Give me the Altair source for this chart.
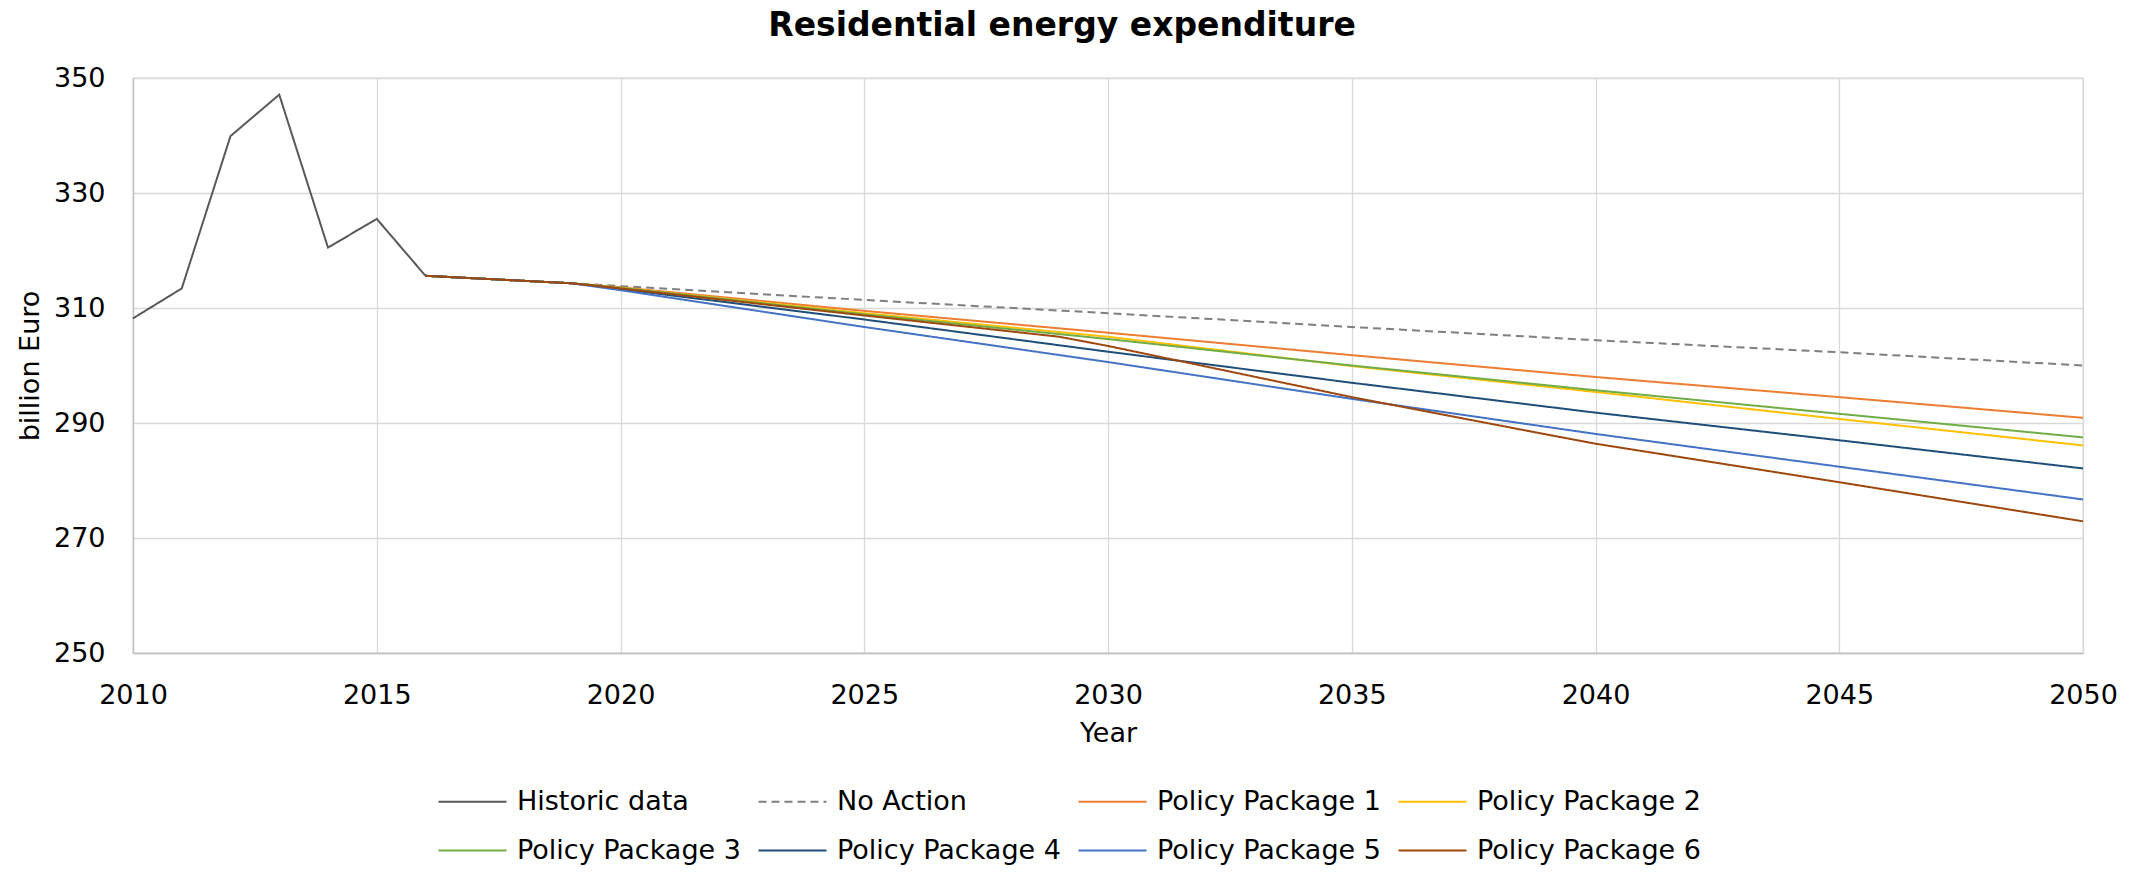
import altair as alt
import pandas as pd

# ---- data ----
hist_years = [2010, 2011, 2012, 2013, 2014, 2015, 2016]
hist_values = [308.2, 313.4, 339.9, 347.1, 320.5, 325.5, 315.6]

scen_years = [2016, 2019, 2020, 2025, 2030, 2035, 2040, 2045, 2050]
no_action = [315.6, 314.3, 313.8, 311.4, 309.1, 306.7, 304.4, 302.3, 300.0]
pp1 = [315.6, 314.3, 313.6, 309.5, 305.7, 301.8, 298.0, 294.5, 290.9]
pp2 = [315.6, 314.3, 313.5, 309.1, 305.0, 299.9, 295.4, 290.7, 286.1]
pp3 = [315.6, 314.3, 313.5, 308.9, 304.6, 300.0, 295.7, 291.6, 287.5]
pp4 = [315.6, 314.3, 313.3, 308.0, 302.4, 297.0, 291.8, 287.0, 282.1]
pp5 = [315.6, 314.3, 313.1, 306.7, 300.6, 294.2, 288.1, 282.4, 276.7]

pp6_years = [2016, 2019, 2020, 2025, 2029, 2030, 2035, 2039, 2040, 2045, 2050]
pp6 = [315.6, 314.3, 313.4, 308.7, 305.0, 303.4, 294.5, 288.0, 286.4, 279.7, 272.9]

series_names = ["Historic data", "No Action", "Policy Package 1", "Policy Package 2",
                "Policy Package 3", "Policy Package 4", "Policy Package 5", "Policy Package 6"]
series_colors = ["#595959", "#7F7F7F", "#ED7D31", "#FFC000",
                 "#70AD47", "#1F4E79", "#4472C4", "#9E480E"]
series_dash = [[1, 0], [8, 5], [1, 0], [1, 0], [1, 0], [1, 0], [1, 0], [1, 0]]

x_ticks = [2010, 2015, 2020, 2025, 2030, 2035, 2040, 2045, 2050]
y_ticks = [250, 270, 290, 310, 330, 350]

# ---- build long table ----
rows = []
def add(name, years, vals):
    for i, (yr, v) in enumerate(zip(years, vals)):
        rows.append({"series": name, "year": yr, "value": v, "idx": i})

add("Historic data", hist_years, hist_values)
add("No Action", scen_years, no_action)
add("Policy Package 1", scen_years, pp1)
add("Policy Package 2", scen_years, pp2)
add("Policy Package 3", scen_years, pp3)
add("Policy Package 4", scen_years, pp4)
add("Policy Package 5", scen_years, pp5)
add("Policy Package 6", pp6_years, pp6)
df = pd.DataFrame(rows)

FONT = "DejaVu Sans"

legend = alt.Legend(
    title=None, orient="none", legendX=304, legendY=688, columns=4,
    direction="horizontal",
    symbolType="stroke", symbolSize=4624, symbolStrokeWidth=2.2,
    labelFont=FONT, labelFontSize=27, labelColor="#000000",
    labelOffset=9, columnPadding=13, rowPadding=-24, labelLimit=400,
)

chart = alt.Chart(df).mark_line(strokeWidth=2).encode(
    x=alt.X("year:Q", title="Year",
            scale=alt.Scale(domain=[2010, 2050], nice=False, zero=False),
            axis=alt.Axis(values=x_ticks, format="d", labelPadding=29, titlePadding=12,
                          labelFlush=False)),
    y=alt.Y("value:Q", title="billion Euro",
            scale=alt.Scale(domain=[250, 350], nice=False, zero=False),
            axis=alt.Axis(values=y_ticks, labelPadding=28, titlePadding=9)),
    color=alt.Color("series:N", scale=alt.Scale(domain=series_names, range=series_colors),
                    sort=series_names, legend=legend),
    strokeDash=alt.StrokeDash("series:N", scale=alt.Scale(domain=series_names, range=series_dash),
                              sort=series_names, legend=legend),
    order="idx:Q",
).properties(
    width=1950, height=575,
    title=alt.TitleParams("Residential energy expenditure", font=FONT, fontSize=33,
                          fontWeight="bold", color="#000000", anchor="middle",
                          offset=21, dx=-46),
    autosize=alt.AutoSizeParams(type="none"),
    padding={"left": 125, "top": 70, "right": 40, "bottom": 213},
).configure_axis(
    labelFont=FONT, labelFontSize=27, labelColor="#000000",
    titleFont=FONT, titleFontSize=27, titleColor="#000000", titleFontWeight="normal",
    grid=True, gridColor="#D9D9D9", gridWidth=1.3,
    domainColor="#BFBFBF", domainWidth=1.3, ticks=False,
).configure_view(stroke="#D9D9D9", strokeWidth=1.3)

chart.save("out.html", embed_options={"renderer": "svg", "actions": False})
